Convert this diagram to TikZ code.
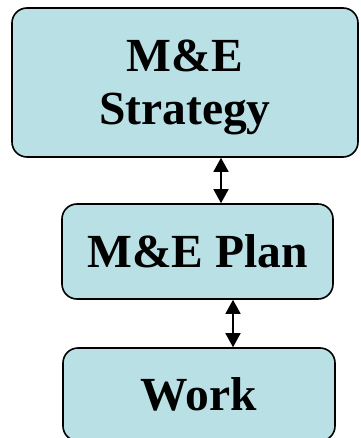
\documentclass[tikz,border=0pt]{standalone}
\usepackage{fontspec}
\setmainfont{Liberation Serif}
\usetikzlibrary{arrows.meta}

\definecolor{boxfill}{RGB}{185,224,228}

\begin{document}
\begin{tikzpicture}[
		x=1pt, y=1pt,
		every node/.style={rectangle, rounded corners=15pt, draw, line width=1.6pt, fill=boxfill, inner sep=0pt, align=center, font=\bfseries\fontsize{47.5}{53}\selectfont},
		link/.style={{Triangle[length=14pt,width=15pt]}-{Triangle[length=14pt,width=15pt]}, line width=1.5pt}
	]
  \useasboundingbox (0,0) rectangle (360,-438);
  \node (strategy) [minimum width=346pt, minimum height=149pt] at (185,-82.5) {\rule{0pt}{42pt}M\&E\\Strategy};
  \node (plan) [minimum width=271pt, minimum height=95pt] at (197.5,-251.5) {M\&E Plan};
  \node (work) [minimum width=272pt, minimum height=93pt] at (199,-394.5) {Work};
  \coordinate (a_1) at (221,0);
  \coordinate (a_2) at (233,0);
  \draw [link] (strategy.south -| a_1) -- (plan.north -| a_1);
  \draw [link] (plan.south -| a_2) -- (work.north -| a_2);
\end{tikzpicture}
\end{document}
